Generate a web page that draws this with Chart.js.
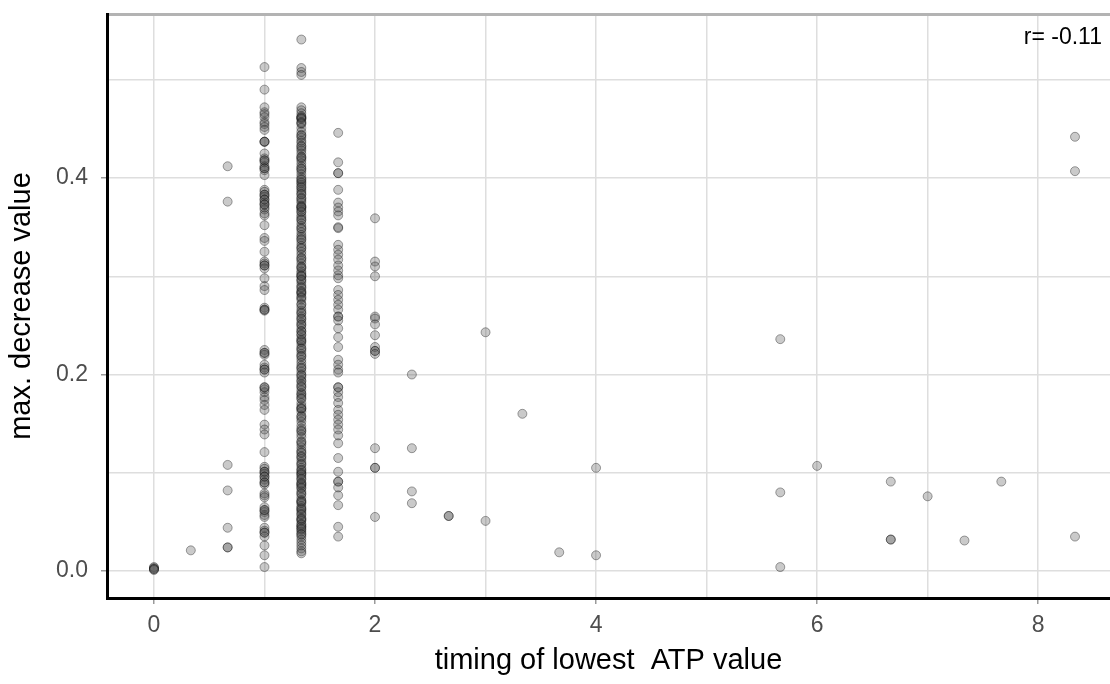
<!DOCTYPE html>
<html>
<head>
<meta charset="utf-8">
<script src="https://cdn.jsdelivr.net/npm/chart.js@4/dist/chart.umd.min.js"></script>
<style>
  html, body { margin: 0; padding: 0; background: #fff; }
  #wrap { width: 1110px; height: 684px; }
</style>
</head>
<body>
<div id="wrap"><canvas id="scatterChart"></canvas></div>
<script>
// timing values (x) and the max. decrease values observed at each
const timings = [0, 1/3, 2/3, 1, 4/3, 5/3, 2, 7/3, 8/3, 3, 10/3, 11/3, 4, 17/3, 6, 20/3, 7, 22/3, 23/3, 25/3];

const t0 = [0.004, 0.003, 0.002, 0.002, 0.001];
const t033 = [0.021];
const t067 = [0.412, 0.376, 0.108, 0.082, 0.044, 0.024, 0.024];
const t1 = [0.513, 0.490, 0.472, 0.467, 0.465, 0.462, 0.457, 0.455, 0.452, 0.449, 0.437, 0.437,
  0.425, 0.420, 0.418, 0.416, 0.412, 0.410, 0.408, 0.403, 0.388, 0.386, 0.383, 0.381, 0.378,
  0.375, 0.373, 0.370, 0.368, 0.364, 0.362, 0.352, 0.339, 0.336, 0.325, 0.315, 0.313, 0.311,
  0.308, 0.298, 0.290, 0.286, 0.268, 0.266, 0.265, 0.225, 0.222, 0.220, 0.210, 0.207, 0.205,
  0.202, 0.187, 0.185, 0.182, 0.177, 0.174, 0.169, 0.164, 0.149, 0.144, 0.139, 0.121, 0.106,
  0.104, 0.101, 0.099, 0.096, 0.093, 0.090, 0.088, 0.079, 0.077, 0.075, 0.065, 0.062, 0.060,
  0.057, 0.055, 0.044, 0.041, 0.039, 0.035, 0.026, 0.016, 0.004,
  0.437, 0.418, 0.410, 0.383, 0.378, 0.373, 0.311, 0.266, 0.222, 0.205, 0.187, 0.101, 0.096,
  0.090, 0.062, 0.039];
const t133 = [0.541, 0.512, 0.508, 0.505, 0.472, 0.469, 0.466, 0.463, 0.461, 0.461, 0.460, 0.457,
  0.455, 0.451, 0.447, 0.444, 0.441, 0.438, 0.436, 0.433, 0.430, 0.428, 0.425, 0.422, 0.420,
  0.418, 0.415, 0.412, 0.410, 0.407, 0.404, 0.401, 0.398, 0.396, 0.395, 0.393, 0.390, 0.388,
  0.386, 0.383, 0.380, 0.377, 0.375, 0.372, 0.370, 0.370, 0.368, 0.365, 0.362, 0.360, 0.357,
  0.354, 0.351, 0.348, 0.345, 0.342, 0.340, 0.337, 0.334, 0.331, 0.328, 0.325, 0.322, 0.319,
  0.316, 0.313, 0.310, 0.308, 0.305, 0.303, 0.300, 0.300, 0.297, 0.294, 0.291, 0.288, 0.285,
  0.283, 0.282, 0.279, 0.276, 0.272, 0.268, 0.265, 0.262, 0.259, 0.256, 0.253, 0.250, 0.247,
  0.244, 0.244, 0.240, 0.237, 0.234, 0.233, 0.230, 0.227, 0.224, 0.221, 0.218, 0.215, 0.212,
  0.209, 0.206, 0.203, 0.200, 0.197, 0.194, 0.193, 0.190, 0.187, 0.184, 0.181, 0.180, 0.178,
  0.175, 0.171, 0.168, 0.165, 0.165, 0.162, 0.158, 0.155, 0.152, 0.148, 0.145, 0.142, 0.139,
  0.136, 0.132, 0.129, 0.126, 0.123, 0.120, 0.117, 0.114, 0.111, 0.108, 0.105, 0.102, 0.100,
  0.099, 0.096, 0.093, 0.090, 0.088, 0.087, 0.084, 0.081, 0.078, 0.075, 0.072, 0.070, 0.069,
  0.066, 0.063, 0.062, 0.060, 0.057, 0.054, 0.052, 0.051, 0.048, 0.045, 0.045, 0.042, 0.040,
  0.038, 0.035, 0.032, 0.029, 0.026, 0.023, 0.020, 0.018,
  0.462, 0.456, 0.443, 0.432, 0.421, 0.409, 0.399, 0.391, 0.384, 0.379, 0.371, 0.366, 0.358,
  0.349, 0.338, 0.329, 0.318, 0.309, 0.301, 0.296, 0.289, 0.284, 0.278, 0.271, 0.263, 0.257,
  0.251, 0.241, 0.235, 0.226, 0.219, 0.207, 0.199, 0.188, 0.176, 0.166, 0.157, 0.143, 0.131,
  0.121, 0.116, 0.109, 0.103, 0.098, 0.094, 0.089, 0.085, 0.079, 0.071, 0.064, 0.058, 0.053,
  0.047, 0.043, 0.037];
const t167 = [0.446, 0.416, 0.405, 0.405, 0.388, 0.375, 0.370, 0.366, 0.362, 0.350, 0.349, 0.332,
  0.327, 0.322, 0.317, 0.311, 0.306, 0.301, 0.298, 0.286, 0.281, 0.276, 0.271, 0.266, 0.259,
  0.259, 0.255, 0.247, 0.238, 0.228, 0.215, 0.210, 0.205, 0.202, 0.187, 0.187, 0.182, 0.177,
  0.171, 0.164, 0.159, 0.154, 0.149, 0.144, 0.138, 0.130, 0.115, 0.101, 0.091, 0.091, 0.085,
  0.077, 0.067, 0.045, 0.035];
const t2 = [0.359, 0.315, 0.310, 0.300, 0.259, 0.257, 0.251, 0.240, 0.228, 0.224, 0.224, 0.221,
  0.125, 0.105, 0.105, 0.055];
const t233 = [0.200, 0.125, 0.081, 0.069];
const t267 = [0.056, 0.056];
const t3 = [0.243, 0.051];
const t333 = [0.160];
const t367 = [0.019];
const t4 = [0.105, 0.016];
const t567 = [0.236, 0.080, 0.004];
const t6 = [0.107];
const t667 = [0.091, 0.032, 0.032];
const t7 = [0.076];
const t733 = [0.031];
const t767 = [0.091];
const t833 = [0.442, 0.407, 0.035];

const valuesByTiming = [t0, t033, t067, t1, t133, t167, t2, t233, t267, t3, t333, t367, t4,
  t567, t6, t667, t7, t733, t767, t833];

const xTicks = [0, 1, 2, 3, 4, 5, 6, 7, 8];
const yTicks = [0, 0.1, 0.2, 0.3, 0.4, 0.5];
const rLabel = 'r= -0.11';

var points = [];
timings.forEach(function (t, i) {
    valuesByTiming[i].forEach(function (v) {
        points.push({ x: t, y: v });
    });
});

const FONT = '"Liberation Sans", Arial, sans-serif';

// draws the correlation label in the top right corner of the panel
const corrLabel = {
    id: 'corrLabel',
    afterDraw(chart) {
        const { ctx, chartArea } = chart;
        ctx.save();
        ctx.font = '23px ' + FONT;
        ctx.fillStyle = '#000';
        ctx.textAlign = 'right';
        ctx.textBaseline = 'middle';
        ctx.fillText(rLabel, chartArea.right - 8, chartArea.top + 24);
        ctx.restore();
    }
};

// no extra label padding: the panel edges are set by the fixed axis sizes
const noPad = (scale) => {
    scale.paddingTop = 0;
    scale.paddingBottom = 0;
    scale.paddingLeft = 0;
    scale.paddingRight = 0;
};

var ctx = document.getElementById('scatterChart');
var myChart = new Chart(ctx, {
    type: 'scatter',
    data: {
        datasets: [{
            data: points,
            pointRadius: 4.5,
            pointHoverRadius: 4.5,
            pointBorderWidth: 1,
            backgroundColor: 'rgba(80,80,80,0.3)',
            borderColor: 'rgba(0,0,0,0.35)'
        }]
    },
    options: {
        responsive: true,
        maintainAspectRatio: false,
        animation: false,
        layout: { padding: 0, autoPadding: false },
        plugins: {
            legend: { display: false },
            tooltip: { enabled: false }
        },
        scales: {
            x: {
                type: 'linear',
                position: 'bottom',
                min: -0.425,
                max: 8.65,
                afterBuildTicks: (scale) => { scale.ticks = xTicks.map(v => ({ value: v })); },
                afterFit: (scale) => { scale.height = 86; noPad(scale); },
                grid: {
                    color: '#dedede',
                    lineWidth: 1.5,
                    tickLength: 6,
                    tickColor: (c) => (c.tick && c.tick.value % 2 === 0) ? '#9a9a9a' : 'rgba(0,0,0,0)',
                    tickWidth: 1.5
                },
                border: { color: '#000', width: 3 },
                ticks: {
                    color: '#4d4d4d',
                    font: { family: FONT, size: 23 },
                    padding: 8,
                    maxRotation: 0,
                    autoSkip: false,
                    callback: (v) => (v % 2 === 0 ? String(v) : '')
                },
                title: {
                    display: true,
                    text: 'timing of lowest  ATP value',
                    color: '#000',
                    font: { family: FONT, size: 29 },
                    padding: { top: 4, bottom: 6 }
                }
            },
            xTop: {
                type: 'linear',
                position: 'top',
                min: -0.425,
                max: 8.65,
                afterFit: (scale) => { scale.height = 14; noPad(scale); },
                grid: { display: false, drawOnChartArea: false, drawTicks: false },
                ticks: { display: false },
                border: { color: '#b3b3b3', width: 3 }
            },
            y: {
                type: 'linear',
                min: -0.0275,
                max: 0.567,
                afterBuildTicks: (scale) => { scale.ticks = yTicks.map(v => ({ value: v })); },
                afterFit: (scale) => { scale.width = 107; noPad(scale); },
                grid: {
                    color: '#dedede',
                    lineWidth: 1.5,
                    tickLength: 6,
                    tickColor: (c) => (c.tick && Math.round(c.tick.value * 10) % 2 === 0) ? '#9a9a9a' : 'rgba(0,0,0,0)',
                    tickWidth: 1.5
                },
                border: { color: '#000', width: 3 },
                ticks: {
                    color: '#4d4d4d',
                    font: { family: FONT, size: 23 },
                    padding: 13,
                    autoSkip: false,
                    callback: (v) => (Math.round(v * 10) % 2 === 0 ? v.toFixed(1) : '')
                },
                title: {
                    display: true,
                    text: 'max. decrease value',
                    color: '#000',
                    font: { family: FONT, size: 29 },
                    padding: { top: 5, bottom: 0 }
                }
            }
        }
    },
    plugins: [corrLabel]
});
</script>
</body>
</html>
